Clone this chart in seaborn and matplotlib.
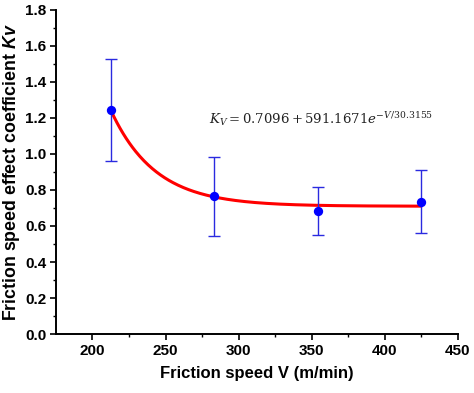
import numpy as np
import pandas as pd
import matplotlib
matplotlib.use("Agg")
import matplotlib.pyplot as plt
import seaborn as sns

# Data
speed = [212.5, 283, 354, 425]
kv = [1.243, 0.765, 0.683, 0.733]
err_low = [0.958, 0.546, 0.548, 0.562]
err_high = [1.527, 0.983, 0.817, 0.908]
# Fitted curve printed on the chart: Kv = a + b * exp(-V / c)
fit_a = 0.7096
fit_b = 591.1671
fit_c = 30.3155
x_ticks = [200, 250, 300, 350, 400, 450]
y_ticks = [0.0, 0.2, 0.4, 0.6, 0.8, 1.0, 1.2, 1.4, 1.6, 1.8]

sns.set_style("ticks")
plt.rcParams["font.family"] = ["Liberation Sans", "DejaVu Sans"]
plt.rcParams["text.color"] = "black"
plt.rcParams["axes.labelcolor"] = "black"
plt.rcParams["xtick.color"] = "black"
plt.rcParams["ytick.color"] = "black"
plt.rcParams["mathtext.fontset"] = "custom"
plt.rcParams["mathtext.it"] = "Liberation Sans:italic:bold"
plt.rcParams["mathtext.rm"] = "Liberation Sans:bold"

fig = plt.figure(figsize=(4.74, 3.93), dpi=100)
ax = fig.add_axes([0.118, 0.150, 0.848, 0.825])

vv = np.linspace(speed[0], speed[-1], 300)
curve = pd.DataFrame({"V": vv, "K": fit_a + fit_b * np.exp(-vv / fit_c)})
sns.lineplot(data=curve, x="V", y="K", color="#ff0000", linewidth=2.2, ax=ax, zorder=2)

df = pd.DataFrame({"V": speed, "K": kv})
lo = np.array(kv) - np.array(err_low)
hi = np.array(err_high) - np.array(kv)
ax.errorbar(speed, kv, yerr=[lo, hi], fmt="none", ecolor="#2a2ae0",
            elinewidth=1.0, capsize=4, capthick=1.0, zorder=3)
sns.scatterplot(data=df, x="V", y="K", color="#0000ff", s=45, edgecolor="#0000ff",
                linewidth=0, ax=ax, zorder=4)

ax.set_xlim(175, 450)
ax.set_ylim(0, 1.8)
ax.set_xticks(x_ticks)
ax.set_yticks(y_ticks)
ax.set_xticks([225, 275, 325, 375, 425], minor=True)
ax.set_yticks([0.1, 0.3, 0.5, 0.7, 0.9, 1.1, 1.3, 1.5, 1.7], minor=True)
ax.set_yticklabels([f"{t:.1f}" for t in y_ticks])
ax.tick_params(axis="both", which="major", direction="out", length=4, width=1.2,
               labelsize=11, color="black", labelcolor="black", pad=3)
ax.tick_params(axis="both", which="minor", direction="out", length=2.5, width=1.0, color="black")
for lab in ax.get_xticklabels() + ax.get_yticklabels():
    lab.set_fontweight("bold")
for s in ["left", "bottom"]:
    ax.spines[s].set_linewidth(1.4)
    ax.spines[s].set_color("black")
sns.despine(ax=ax)

ax.set_xlabel("Friction speed V (m/min)", fontsize=12, fontweight="bold", labelpad=6)
ax.set_ylabel("Friction speed effect coefficient $Kv$", fontsize=12.8, fontweight="bold", labelpad=2)

ax.text(280, 1.195, r"$K_V = 0.7096 + 591.1671e^{-V/30.3155}$", fontsize=9.5,
        fontweight="normal", math_fontfamily="dejavuserif", ha="left", va="center", color="#222222")

fig.savefig("out.png", dpi=100)
